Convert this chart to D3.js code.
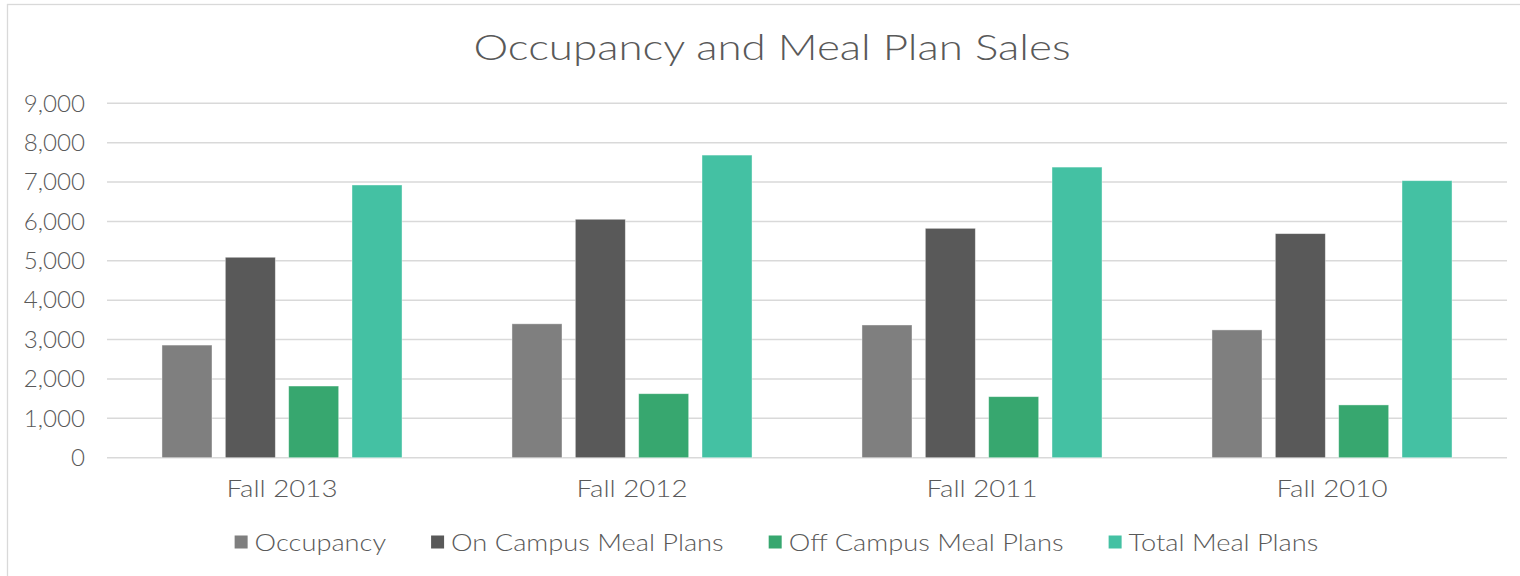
<!DOCTYPE html>
<html>
<head>
<meta charset="utf-8">
<script src="https://cdn.jsdelivr.net/npm/d3@7"></script>
<style>
  body { margin: 0; background: #fff; }
  svg text { font-family: "Lato", "Open Sans", sans-serif; font-weight: 300; fill: #595959; }
</style>
</head>
<body>
<div id="chart"></div>
<script>
const categories = ["Fall 2013", "Fall 2012", "Fall 2011", "Fall 2010"];
const seriesNames = ["Occupancy", "On Campus Meal Plans", "Off Campus Meal Plans", "Total Meal Plans"];
const occupancy = [2860, 3400, 3370, 3245];
const onCampus = [5090, 6055, 5825, 5690];
const offCampus = [1820, 1625, 1550, 1340];
const totalPlans = [6925, 7685, 7380, 7035];
const yTicks = [0, 1000, 2000, 3000, 4000, 5000, 6000, 7000, 8000, 9000];
const colors = ["#7f7f7f", "#595959", "#37a76f", "#44c1a3"];

const seriesValues = [occupancy, onCampus, offCampus, totalPlans];

const width = 1520;
const height = 576;
const plot = { left: 107, right: 1507, top: 103.3, bottom: 457.7 };

// widen Lato glyphs a little to get closer to the wide geometric face of the original
function stretch(sel, factor) {
  sel.each(function () {
    const len = this.getComputedTextLength();
    d3.select(this)
      .attr("textLength", len * factor)
      .attr("lengthAdjust", "spacingAndGlyphs");
  });
}

const svg = d3.select("#chart")
  .append("svg")
  .attr("width", width)
  .attr("height", height);

// chart frame (right and bottom edges are off the picture)
svg.append("rect")
  .attr("x", 7.5).attr("y", 4.5)
  .attr("width", 1530).attr("height", 600)
  .attr("fill", "#fff")
  .attr("stroke", "#d9d9d9")
  .attr("stroke-width", 1.3);

svg.append("text")
  .attr("x", 772)
  .attr("y", 60)
  .attr("text-anchor", "middle")
  .attr("font-size", 36)
  .text("Occupancy and Meal Plan Sales")
  .call(stretch, 1.22);

const y = d3.scaleLinear().domain([0, 9000]).range([plot.bottom, plot.top]);
const x0 = d3.scaleBand().domain(categories).range([plot.left, plot.right]);
const x1 = d3.scaleBand().domain(seriesNames).range([0, x0.bandwidth()])
  .paddingInner(0.2105).paddingOuter(0.868);

// gridlines
svg.append("g")
  .selectAll("line")
  .data(yTicks)
  .enter()
  .append("line")
  .attr("x1", plot.left).attr("x2", plot.right)
  .attr("y1", d => y(d)).attr("y2", d => y(d))
  .attr("stroke", "#d9d9d9")
  .attr("stroke-width", 1.5);

// y axis labels
svg.append("g")
  .selectAll("text")
  .data(yTicks)
  .enter()
  .append("text")
  .attr("x", 85)
  .attr("y", d => y(d))
  .attr("dy", "0.36em")
  .attr("text-anchor", "end")
  .attr("font-size", 23)
  .text(d => d3.format(",")(d))
  .call(stretch, 1.05);

// bars
const group = svg.append("g")
  .selectAll("g")
  .data(categories)
  .enter()
  .append("g")
  .attr("transform", d => `translate(${x0(d)},0)`);

group.selectAll("rect")
  .data((c, i) => seriesNames.map((s, j) => ({ s, j, v: seriesValues[j][i] })))
  .enter()
  .append("rect")
  .attr("x", d => x1(d.s))
  .attr("y", d => y(d.v))
  .attr("width", x1.bandwidth())
  .attr("height", d => y(0) - y(d.v))
  .attr("fill", d => colors[d.j])
  .attr("stroke", "#ffffff")
  .attr("stroke-opacity", 0.5)
  .attr("stroke-width", 0.8);

// category labels
svg.append("g")
  .selectAll("text")
  .data(categories)
  .enter()
  .append("text")
  .attr("x", d => x0(d) + x0.bandwidth() / 2)
  .attr("y", 497)
  .attr("text-anchor", "middle")
  .attr("font-size", 23.5)
  .text(d => d)
  .call(stretch, 1.18);

// legend
const legend = svg.append("g");
const items = legend.selectAll("g")
  .data(seriesNames)
  .enter()
  .append("g");

items.append("rect")
  .attr("width", 13).attr("height", 13)
  .attr("y", -6.5)
  .attr("fill", (d, i) => colors[i]);

items.append("text")
  .attr("x", 20)
  .attr("dy", "0.36em")
  .attr("font-size", 24)
  .text(d => d)
  .call(stretch, 1.135);

let cursor = 0;
const gap = 45;
items.each(function () {
  const g = d3.select(this);
  g.attr("transform", `translate(${cursor},0)`);
  const t = g.select("text");
  cursor += 20 + (+t.attr("textLength")) + gap;
});
const legendWidth = cursor - gap;
legend.attr("transform", `translate(${776.5 - legendWidth / 2},542)`);
</script>
</body>
</html>
